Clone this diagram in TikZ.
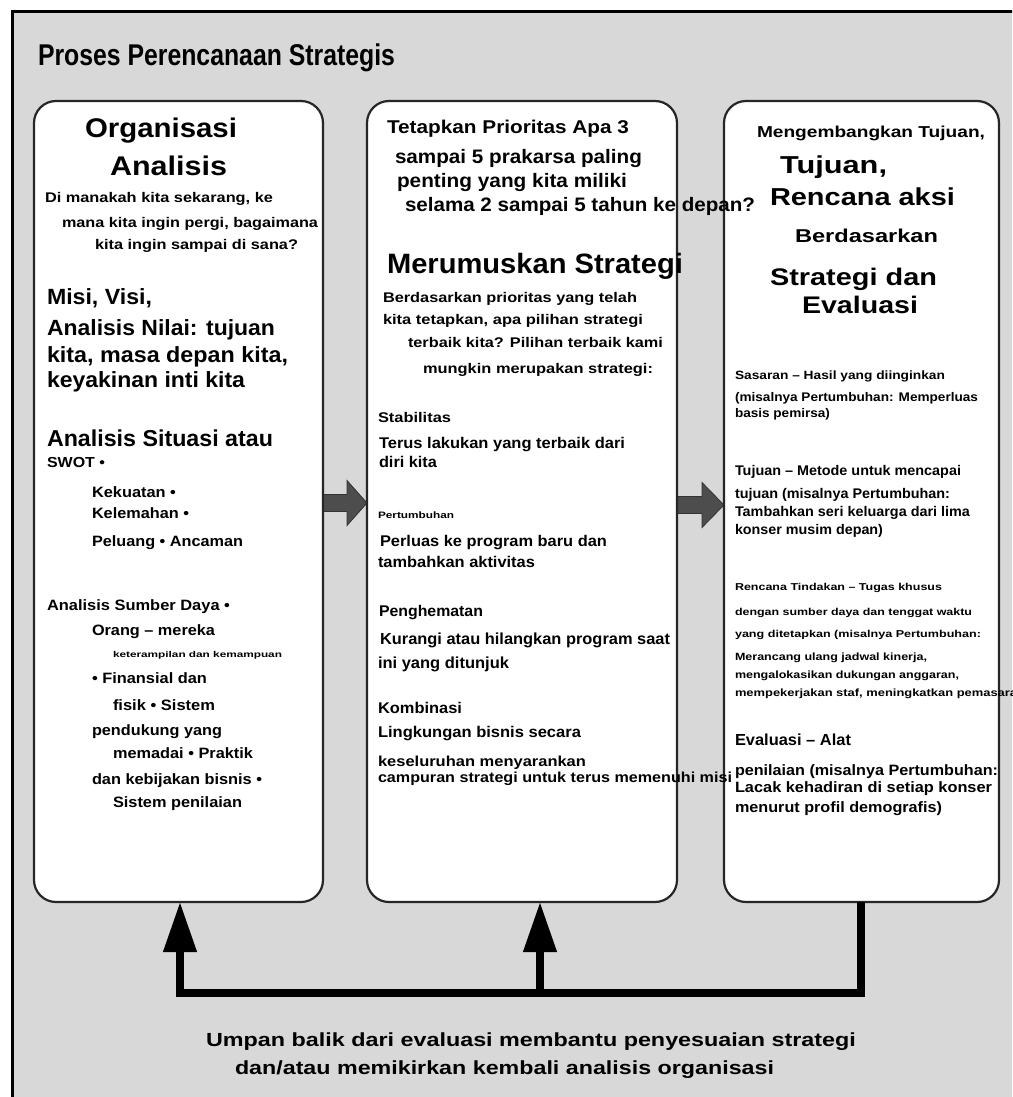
\documentclass[tikz,border=0pt]{standalone}
\usepackage{fontspec}
\setmainfont{Liberation Sans}
\usepackage{graphicx}
\usetikzlibrary{arrows.meta}
\definecolor{bg}{RGB}{216,216,216}
\definecolor{arrowfill}{RGB}{77,77,77}
\newcommand{\fitw}[2]{\resizebox{#1pt}{\height}{#2}}
\begin{document}
\begin{tikzpicture}[x=1pt,y=-1pt,
  tx/.style={anchor=base west,inner sep=0pt,outer sep=0pt},
  fs/.style={font=\fontsize{#1}{#1}\selectfont\bfseries},
  panel/.style={draw=black!85,line width=2.2pt,fill=white,rounded corners=22pt,anchor=north west,inner sep=0pt,outer sep=0pt},
  blockarrow/.style={fill=arrowfill,draw=black!80,line width=0.8pt},
  fbarrow/.style={line width=7.5pt,line join=miter,-{Triangle[length=50pt,width=32pt]}}]
\useasboundingbox (0,0) rectangle (1012,1097);
\clip (0,0) rectangle (1012,1097);
\fill[white] (0,0) rectangle (1012,1097);
\draw[fill=bg,line width=3pt] (12,12) rectangle (1040,1130);

% title
\node[tx,fs=30] (title) at (38,66) {\fitw{357}{Proses Perencanaan Strategis}};

% block arrows (drawn under the panels)
\coordinate (orgE) at (323,503);
\coordinate (formE) at (677,505);
\draw[blockarrow] (orgE) ++(0,-8.5) -- ++(24,0) -- ++(0,-14) -- ++(20,22.5) -- ++(-20,22.5) -- ++(0,-14) -- ++(-24,0) -- cycle;
\draw[blockarrow] (formE) ++(0,-8.5) -- ++(25,0) -- ++(0,-14) -- ++(22,22.5) -- ++(-22,22.5) -- ++(0,-14) -- ++(-25,0) -- cycle;

% panels
\node[panel,minimum width=289pt,minimum height=801pt] (org) at (34,101) {};
\node[panel,minimum width=310pt,minimum height=801pt] (form) at (367,101) {};
\node[panel,minimum width=275pt,minimum height=801pt] (dev) at (724,101) {};

% feedback connectors
\coordinate (fbR) at (861,993);
\coordinate (fbL) at (180,993);
\coordinate (fbM) at (540,993);
\draw[fbarrow] (dev.south -| fbR) -- (fbR) -- (fbL) -- (org.south -| fbL);
\draw[fbarrow] (fbM) -- (form.south -| fbM);

% left panel text
\node[tx,fs=27] (l1) at (85,137) {\fitw{152}{Organisasi}};
\node[tx,fs=27] (l2) at (110,175) {\fitw{117}{Analisis}};
\node[tx,fs=14] (l3) at (45,202) {\fitw{228}{Di manakah kita sekarang, ke}};
\node[tx,fs=14] (l4) at (62,227) {\fitw{256}{mana kita ingin pergi, bagaimana}};
\node[tx,fs=14] (l5) at (95,249) {\fitw{203}{kita ingin sampai di sana?}};
\node[tx,fs=22] (l6) at (47,304) {\fitw{105}{Misi, Visi,}};
\node[tx,fs=22] (l7) at (47,335) {\fitw{228}{Analisis Nilai: tujuan}};
\node[tx,fs=22] (l8) at (47,362) {\fitw{241}{kita, masa depan kita,}};
\node[tx,fs=22] (l9) at (47,387) {\fitw{198}{keyakinan inti kita}};
\node[tx,fs=23] (l10) at (47,446) {\fitw{226}{Analisis Situasi atau}};
\node[tx,fs=14.5] (l11) at (47,467) {\fitw{58}{SWOT •}};
\node[tx,fs=15] (l12) at (92,497) {\fitw{84}{Kekuatan •}};
\node[tx,fs=15] (l13) at (92,518) {\fitw{97}{Kelemahan •}};
\node[tx,fs=15] (l14) at (92,546) {\fitw{151}{Peluang • Ancaman}};
\node[tx,fs=15] (l15) at (47,610) {\fitw{183}{Analisis Sumber Daya •}};
\node[tx,fs=15] (l16) at (92,635) {\fitw{123}{Orang – mereka}};
\node[tx,fs=8.5] (l17) at (113,657) {\fitw{169}{keterampilan dan kemampuan}};
\node[tx,fs=15] (l18) at (92,683) {\fitw{115}{• Finansial dan}};
\node[tx,fs=15] (l19) at (113,710) {\fitw{102}{fisik • Sistem}};
\node[tx,fs=15] (l20) at (92,735) {\fitw{130}{pendukung yang}};
\node[tx,fs=15] (l21) at (113,758) {\fitw{140}{memadai • Praktik}};
\node[tx,fs=15] (l22) at (92,784) {\fitw{170}{dan kebijakan bisnis •}};
\node[tx,fs=15] (l23) at (113,807) {\fitw{129}{Sistem penilaian}};

% middle panel text
\node[tx,fs=18.5] (m1) at (387,133) {\fitw{242}{Tetapkan Prioritas Apa 3}};
\node[tx,fs=19.5] (m2) at (395,164) {\fitw{247}{sampai 5 prakarsa paling}};
\node[tx,fs=19.5] (m3) at (397,187) {\fitw{230}{penting yang kita miliki}};
\node[tx,fs=19.5] (m4) at (405,211) {\fitw{350}{selama 2 sampai 5 tahun ke depan?}};
\node[tx,fs=28] (m5) at (387,273) {\fitw{296}{Merumuskan Strategi}};
\node[tx,fs=14] (m6) at (383,302) {\fitw{254}{Berdasarkan prioritas yang telah}};
\node[tx,fs=14] (m7) at (383,324) {\fitw{260}{kita tetapkan, apa pilihan strategi}};
\node[tx,fs=14] (m8) at (408,347) {\fitw{255}{terbaik kita? Pilihan terbaik kami}};
\node[tx,fs=14] (m9) at (423,373) {\fitw{230}{mungkin merupakan strategi:}};
\node[tx,fs=14] (m10) at (378,422) {\fitw{73}{Stabilitas}};
\node[tx,fs=15.5] (m11) at (379,448) {\fitw{246}{Terus lakukan yang terbaik dari}};
\node[tx,fs=15.5] (m12) at (379,467) {\fitw{58}{diri kita}};
\node[tx,fs=9.3] (m13) at (378,518) {\fitw{76}{Pertumbuhan}};
\node[tx,fs=15.5] (m14) at (380,546) {\fitw{227}{Perluas ke program baru dan}};
\node[tx,fs=15.5] (m15) at (378,567) {\fitw{157}{tambahkan aktivitas}};
\node[tx,fs=15.5] (m16) at (379,616) {\fitw{104}{Penghematan}};
\node[tx,fs=16] (m17) at (380,644) {\fitw{290}{Kurangi atau hilangkan program saat}};
\node[tx,fs=16] (m18) at (378,668) {\fitw{131}{ini yang ditunjuk}};
\node[tx,fs=15.5] (m19) at (378,713) {\fitw{84}{Kombinasi}};
\node[tx,fs=15.5] (m20) at (378,737) {\fitw{203}{Lingkungan bisnis secara}};
\node[tx,fs=14.5] (m21) at (378,766) {\fitw{208}{keseluruhan menyarankan}};
\node[tx,fs=14.5] (m22) at (378,782) {\fitw{354}{campuran strategi untuk terus memenuhi misi}};

% right panel text
\node[tx,fs=15.8] (r1) at (757,137) {\fitw{228}{Mengembangkan Tujuan,}};
\node[tx,fs=24.5] (r2) at (780,173) {\fitw{107}{Tujuan,}};
\node[tx,fs=24.5] (r3) at (770,205) {\fitw{185}{Rencana aksi}};
\node[tx,fs=18.6] (r4) at (795,242) {\fitw{143}{Berdasarkan}};
\node[tx,fs=24] (r5) at (770,285) {\fitw{167}{Strategi dan}};
\node[tx,fs=24] (r6) at (802,313) {\fitw{116}{Evaluasi}};
\node[tx,fs=12] (r7) at (735,379) {\fitw{210}{Sasaran – Hasil yang diinginkan}};
\node[tx,fs=12.5] (r8) at (735,401) {\fitw{243}{(misalnya Pertumbuhan: Memperluas}};
\node[tx,fs=12.5] (r9) at (735,417) {\fitw{95}{basis pemirsa)}};
\node[tx,fs=14] (r10) at (735,475) {\fitw{226}{Tujuan – Metode untuk mencapai}};
\node[tx,fs=14] (r11) at (735,498) {\fitw{215}{tujuan (misalnya Pertumbuhan:}};
\node[tx,fs=14] (r12) at (735,516) {\fitw{235}{Tambahkan seri keluarga dari lima}};
\node[tx,fs=14] (r13) at (735,534) {\fitw{148}{konser musim depan)}};
\node[tx,fs=10] (r14) at (735,590) {\fitw{207}{Rencana Tindakan – Tugas khusus}};
\node[tx,fs=10] (r15) at (735,615) {\fitw{237}{dengan sumber daya dan tenggat waktu}};
\node[tx,fs=10] (r16) at (735,637) {\fitw{246}{yang ditetapkan (misalnya Pertumbuhan:}};
\node[tx,fs=10.5] (r17) at (735,660) {\fitw{192}{Merancang ulang jadwal kinerja,}};
\node[tx,fs=10.5] (r18) at (735,678) {\fitw{224}{mengalokasikan dukungan anggaran,}};
\node[tx,fs=10.5] (r19) at (735,696) {\fitw{290}{mempekerjakan staf, meningkatkan pemasaran}};
\node[tx,fs=16] (r20) at (735,745) {\fitw{116}{Evaluasi – Alat}};
\node[tx,fs=15] (r21) at (735,775) {\fitw{263}{penilaian (misalnya Pertumbuhan:}};
\node[tx,fs=15] (r22) at (735,792) {\fitw{257}{Lacak kehadiran di setiap konser}};
\node[tx,fs=15] (r23) at (735,812) {\fitw{207}{menurut profil demografis)}};

% caption
\node[tx,fs=19] (cap1) at (206,1046) {\fitw{650}{Umpan balik dari evaluasi membantu penyesuaian strategi}};
\node[tx,fs=19] (cap2) at (235,1074) {\fitw{539}{dan/atau memikirkan kembali analisis organisasi}};
\end{tikzpicture}
\end{document}
